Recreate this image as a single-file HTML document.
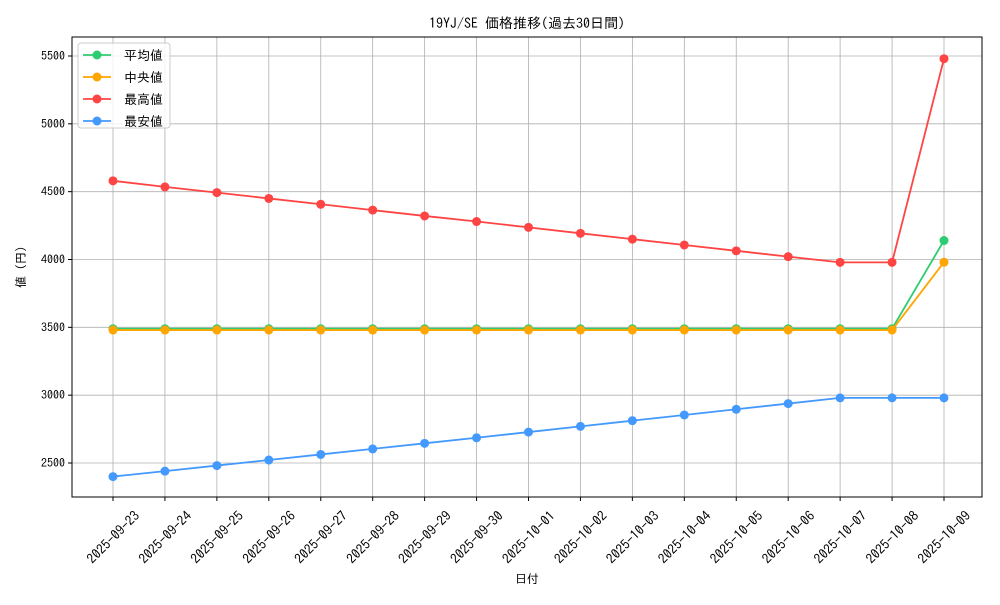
<!DOCTYPE html>
<html><head><meta charset="utf-8"><style>
body{margin:0;background:#fff}
svg text{font-family:"IPAGothic","Liberation Sans","Noto Sans CJK JP",sans-serif;fill:#000}
</style></head><body>
<svg id="c" width="1000" height="600" xmlns="http://www.w3.org/2000/svg"></svg>
<script>
const categories=["2025-09-23","2025-09-24","2025-09-25","2025-09-26","2025-09-27","2025-09-28","2025-09-29","2025-09-30","2025-10-01","2025-10-02","2025-10-03","2025-10-04","2025-10-05","2025-10-06","2025-10-07","2025-10-08","2025-10-09"];
const avgValues=[3490,3490,3490,3490,3490,3490,3490,3490,3490,3490,3490,3490,3490,3490,3490,3490,4140];
const medValues=[3480,3480,3480,3480,3480,3480,3480,3480,3480,3480,3480,3480,3480,3480,3480,3480,3980];
const maxValues=[4580,4535,4493,4450,4407,4364,4321,4280,4237,4193,4150,4107,4064,4021,3979,3979,5480];
const minValues=[2400,2440,2481,2522,2563,2604,2645,2686,2728,2770,2812,2854,2896,2938,2980,2980,2980];
const yTicks=[2500,3000,3500,4000,4500,5000,5500];
const seriesNames=["平均値","中央値","最高値","最安値"];
const svg=document.getElementById('c');const NS='http://www.w3.org/2000/svg';
function el(t,a,p){const e=document.createElementNS(NS,t);for(const k in a)e.setAttribute(k,a[k]);(p||svg).appendChild(e);return e;}
const L=72,R=982,T=37,B=497;
const xS=i=>113+i*(944-113)/(categories.length-1);
const yS=v=>463-(v-2500)*(463-56)/3000;
let t=el('text',{x:527,y:28,'text-anchor':'middle','font-size':14});t.textContent='19YJ/SE 価格推移(過去30日間)';


categories.forEach((c,i)=>{
 const g=el('line',{x1:xS(i),x2:xS(i),y1:T,y2:B,stroke:'#b0b0b0','stroke-width':0.8});
 
 
 el('line',{x1:xS(i),x2:xS(i),y1:B,y2:B+4,stroke:'#000'});
 const x=xS(i),y=B+40;
 const tx=el('text',{x:x,y:y,'text-anchor':'middle','dominant-baseline':'central','font-size':13.5,transform:`rotate(-45 ${x} ${y})`});tx.textContent=c;
 
 
});
yTicks.forEach(v=>{
 const g=el('line',{x1:L,x2:R,y1:yS(v),y2:yS(v),stroke:'#b0b0b0','stroke-width':0.8});
 
 
 el('line',{x1:L-4,x2:L,y1:yS(v),y2:yS(v),stroke:'#000'});
 const tx=el('text',{x:L-7,y:yS(v)+4,'text-anchor':'end','font-size':12});tx.textContent=v;
 
 
});
const fr=el('rect',{x:L,y:T,width:R-L,height:B-T,fill:'none',stroke:'#000','stroke-width':1});


let xl=el('text',{x:527,y:583,'text-anchor':'middle','font-size':12});xl.textContent='日付';


let yl=el('text',{x:25,y:267,'text-anchor':'middle','font-size':12,transform:'rotate(-90 25 267)'});yl.textContent='値 (円)';


const series=[[avgValues,'#2ecc71','average-series'],[medValues,'#ffa500','median-series'],[maxValues,'#ff4444','max-series'],[minValues,'#4499ff','min-series']];
series.forEach(([vals,col,name])=>{
 const g=el('g',{});
 
 
 el('polyline',{points:vals.map((v,i)=>xS(i)+','+yS(v)).join(' '),fill:'none',stroke:col,'stroke-width':1.8},g);
 vals.forEach((v,i)=>{const p=el('circle',{cx:xS(i),cy:yS(v),r:4.5,fill:col},g);
  
  });
});
const lg=el('g',{});


el('rect',{x:78,y:43,width:92,height:85,rx:3,fill:'#fff',stroke:'#ccc','fill-opacity':0.8},lg);
seriesNames.forEach((n,i)=>{
 const y=55+i*22;const col=series[i][1];
 const e=el('g',{},lg);
 
 
 el('line',{x1:83,x2:111,y1:y,y2:y,stroke:col,'stroke-width':1.8},e);
 el('circle',{cx:97,cy:y,r:4.5,fill:col},e);
 const tx=el('text',{x:124,y:y+5,'font-size':13},e);tx.textContent=n;
});
</script>
</body></html>
